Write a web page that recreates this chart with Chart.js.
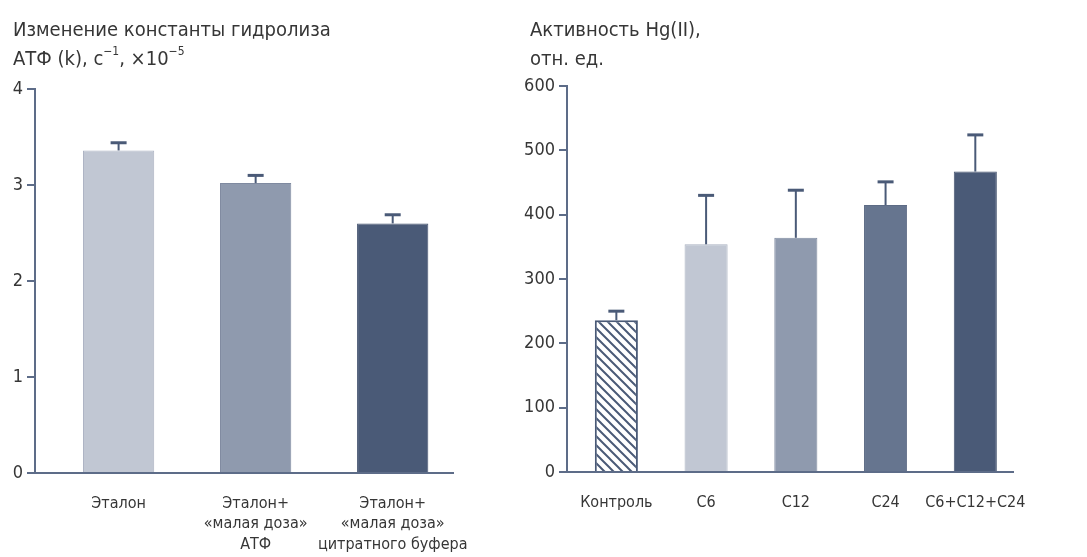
<!DOCTYPE html>
<html>
<head>
<meta charset="utf-8">
<script src="https://cdn.jsdelivr.net/npm/chart.js@4.4.1/dist/chart.umd.min.js"></script>
<style>
  html, body { margin: 0; padding: 0; background: #fff; }
  #wrap { position: relative; width: 1087px; height: 557px; }
  #left { position: absolute; left: 0; top: 0; }
  #right { position: absolute; left: 520px; top: 0; }
</style>
</head>
<body>
<div id="wrap">
  <canvas id="left" width="520" height="557"></canvas>
  <canvas id="right" width="567" height="557"></canvas>
</div>
<script>
// left panel: rate constant of ATP hydrolysis
const leftCategories = [["Эталон"], ["Эталон+", "«малая доза»", "АТФ"], ["Эталон+", "«малая доза»", "цитратного буфера"]];
const leftValues = [3.36, 3.02, 2.60];
const leftErrors = [0.08, 0.08, 0.09];
const leftTicks = [0, 1, 2, 3, 4];

// right panel: Hg(II) activity
const rightCategories = ["Контроль", "C6", "C12", "C24", "C6+C12+C24"];
const rightValues = [236, 354, 364, 415, 467];
const rightErrors = [14, 76, 74, 36, 57];
const rightTicks = [0, 100, 200, 300, 400, 500, 600];

const FONT = "'Liberation Sans Narrow', 'DejaVu Sans Condensed', 'Roboto Condensed', 'Liberation Sans', sans-serif";
const AXIS = "#5d6c88";
const TEXT = "#363636";
const DARK = "#4a5a77";

function hatch() {
  const c = document.createElement("canvas");
  c.width = 9; c.height = 9;
  const g = c.getContext("2d");
  g.fillStyle = "#fff";
  g.fillRect(0, 0, 9, 9);
  g.strokeStyle = DARK;
  g.lineWidth = 2;
  g.beginPath();
  g.moveTo(-2, -2); g.lineTo(11, 11);
  g.moveTo(-2, 7); g.lineTo(2, 11);
  g.moveTo(7, -2); g.lineTo(11, 2);
  g.stroke();
  return g.createPattern(c, "repeat");
}

// one-sided error bars with a cap
const errorBars = {
  id: "errorBars",
  afterDatasetsDraw(chart, args, opts) {
    const ctx = chart.ctx;
    const meta = chart.getDatasetMeta(0);
    const ys = chart.scales.y;
    ctx.save();
    ctx.strokeStyle = DARK;
    meta.data.forEach((bar, i) => {
      const v = chart.data.datasets[0].data[i].y;
      const top = ys.getPixelForValue(v + opts.errors[i]);
      ctx.lineWidth = 2;
      ctx.beginPath();
      ctx.moveTo(bar.x, bar.y);
      ctx.lineTo(bar.x, top);
      ctx.stroke();
      ctx.lineWidth = 3;
      ctx.beginPath();
      ctx.moveTo(bar.x - 8, top);
      ctx.lineTo(bar.x + 8, top);
      ctx.stroke();
    });
    ctx.restore();
  }
};

// axis titles at top-left, with superscripts
const heading = {
  id: "heading",
  afterDraw(chart, args, opts) {
    const ctx = chart.ctx;
    ctx.save();
    ctx.fillStyle = TEXT;
    ctx.textBaseline = "alphabetic";
    opts.lines.forEach((line, li) => {
      let x = opts.x;
      const y = opts.y + li * 29;
      line.forEach(seg => {
        const sup = seg.sup;
        ctx.font = (sup ? 12 : 20) + "px " + FONT;
        ctx.fillText(seg.t, x, sup ? y - 10 : y);
        x += ctx.measureText(seg.t).width;
      });
    });
    ctx.restore();
  }
};

function makeChart(id, cats, values, errors, ticks, colors, borders, o) {
  return new Chart(document.getElementById(id), {
    type: "bar",
    data: {
      datasets: [{
        data: values.map((v, i) => ({ x: i, y: v })),
        backgroundColor: colors,
        borderColor: borders,
        borderWidth: o.borderWidths,
        barPercentage: o.barPct,
        categoryPercentage: 1
      }]
    },
    plugins: [errorBars, heading],
    options: {
      responsive: false,
      animation: false,
      layout: { padding: { top: o.top, right: o.right, left: 0, bottom: 0 } },
      plugins: {
        legend: { display: false },
        tooltip: { enabled: false },
        errorBars: { errors: errors },
        heading: { x: o.titleX, y: 36, lines: o.title }
      },
      scales: {
        x: {
          type: "linear",
          offset: false,
          min: o.xMin,
          max: o.xMax,
          afterBuildTicks: s => { s.ticks = cats.map((c, i) => ({ value: i })); },
          afterFit: s => { s.height = 557 - o.bottom; },
          grid: { display: false, drawTicks: false },
          border: { display: true, color: AXIS, width: 2 },
          ticks: {
            autoSkip: false,
            maxRotation: 0,
            padding: 20,
            color: TEXT,
            font: { family: FONT, size: 16, lineHeight: 1.3 },
            callback: v => cats[v]
          }
        },
        y: {
          min: ticks[0],
          max: ticks[ticks.length - 1],
          afterBuildTicks: s => { s.ticks = ticks.map(v => ({ value: v })); },
          afterFit: s => { s.width = o.axisX; },
          grid: { drawOnChartArea: false, color: AXIS, lineWidth: 2, tickLength: 8 },
          border: { display: true, color: AXIS, width: 2 },
          ticks: {
            padding: 4,
            color: TEXT,
            font: { family: FONT, size: 18 }
          }
        }
      }
    }
  });
}

makeChart("left", leftCategories, leftValues, leftErrors, leftTicks,
  ["#c1c7d3", "#8f9aae", "#4a5a77"],
  ["#aab2c1", "#7f8aa0", "#44536f"],
  {
    borderWidths: 1, barPct: 0.52, xMin: -0.61, xMax: 2.44,
    top: 89, bottom: 473, right: 520 - 453, axisX: 35, titleX: 13,
    title: [
      [{ t: "Изменение константы гидролиза" }],
      [{ t: "АТФ (k), с" }, { t: "−1", sup: true }, { t: ", ×10" }, { t: "−5", sup: true }]
    ]
  });

makeChart("right", rightCategories, rightValues, rightErrors, rightTicks,
  [hatch(), "#c1c7d3", "#8f9aae", "#66758f", "#4a5a77"],
  [DARK, "#aab2c1", "#7f8aa0", "#5d6b85", "#44536f"],
  {
    borderWidths: [2, 1, 1, 1, 1], barPct: 0.48, xMin: -0.55, xMax: 4.42,
    top: 86, bottom: 472, right: 567 - 493, axisX: 47, titleX: 10,
    title: [
      [{ t: "Активность Hg(II)," }],
      [{ t: "отн. ед." }]
    ]
  });
</script>
</body>
</html>
